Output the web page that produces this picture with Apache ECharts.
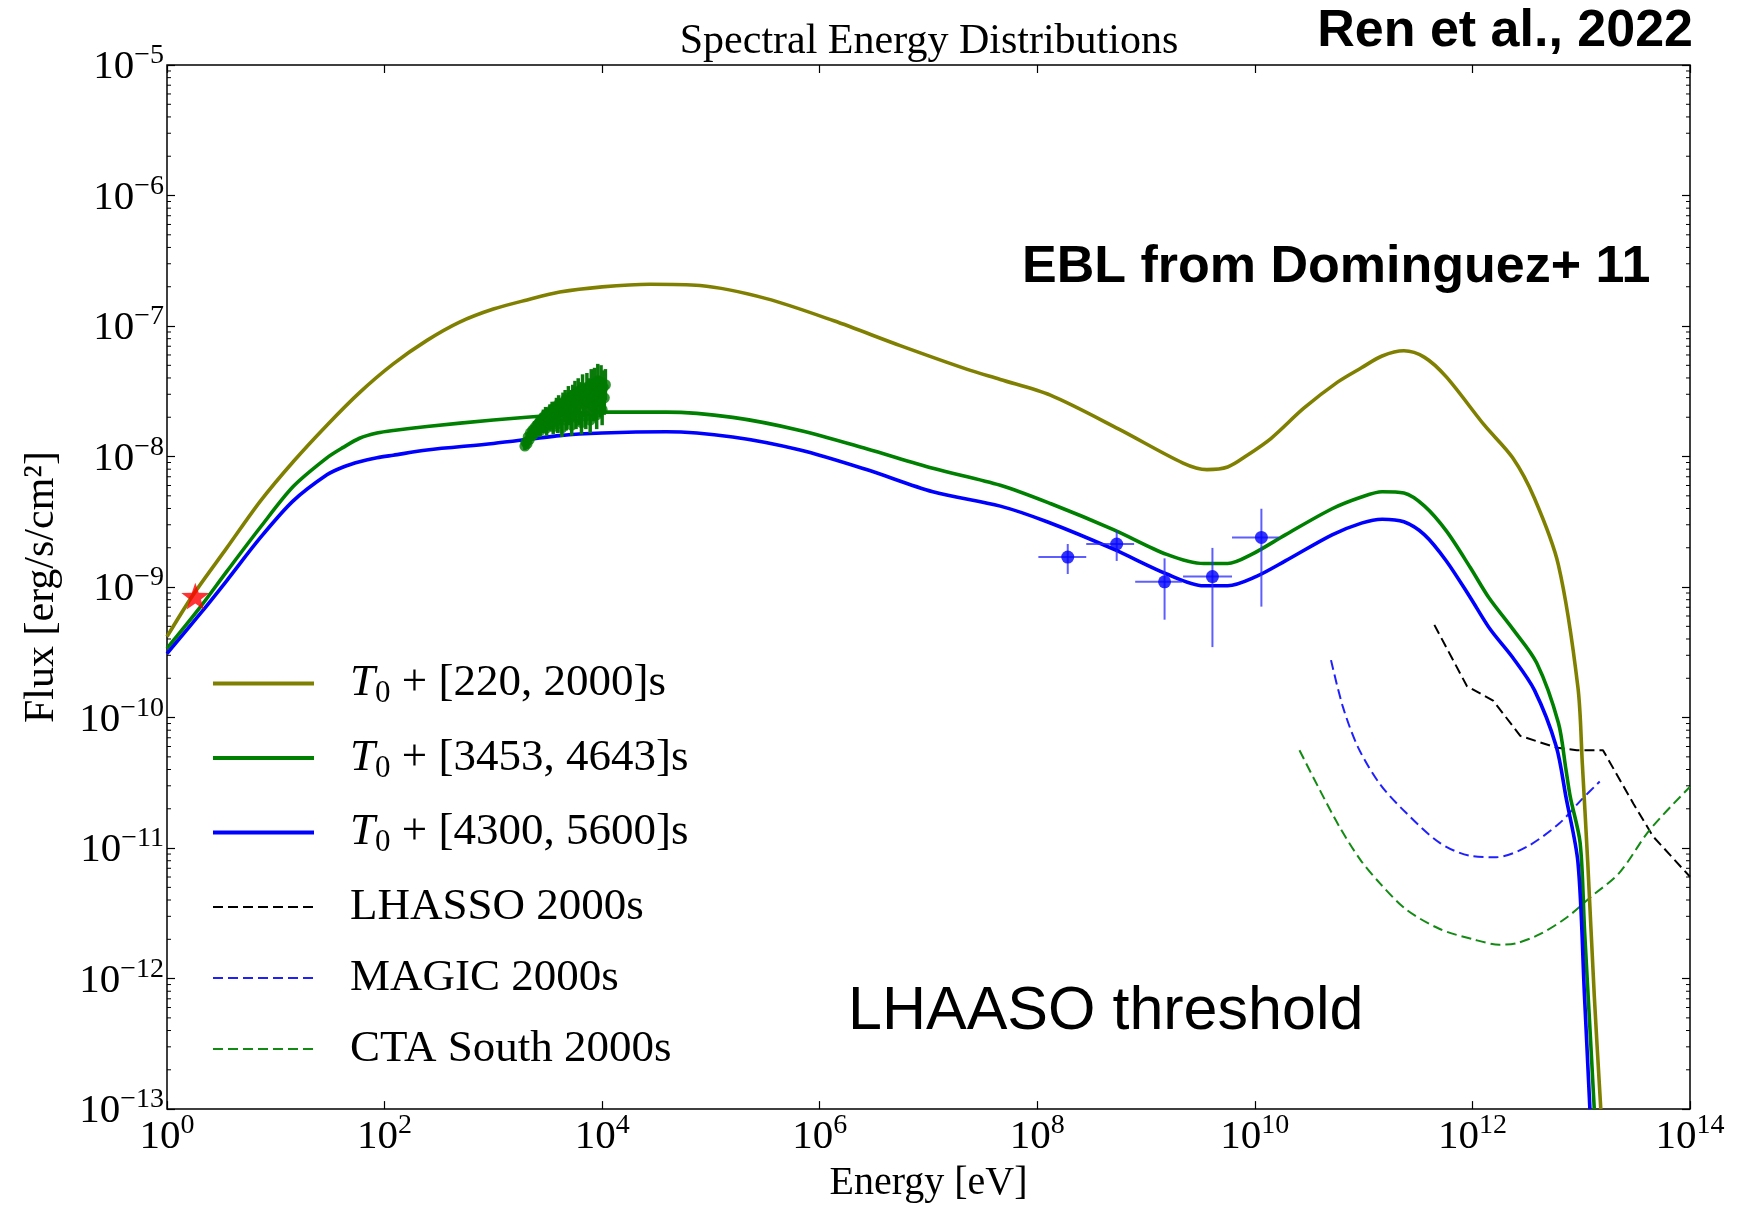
<!DOCTYPE html>
<html>
<head>
<meta charset="utf-8">
<title>Spectral Energy Distributions</title>
<script src="https://cdn.jsdelivr.net/npm/echarts@6/dist/echarts.min.js"></script>
<style>
  html, body { margin: 0; padding: 0; background: #ffffff; }
  #chart { width: 1745px; height: 1208px; }
</style>
</head>
<body>
<div id="chart"></div>
<script>
// ---- Model curves: log10 E [eV] and log10 flux [erg/s/cm^2] ----
const oliveLogE = [0.00, 0.24, 0.55, 0.86, 1.16, 1.47, 1.77, 2.08, 2.39, 2.69, 3.00, 3.31, 3.61, 4.00, 4.44, 4.90, 5.51, 6.13, 6.74, 7.35, 7.66, 8.12, 8.75, 9.34, 9.56, 9.75, 9.93, 10.15, 10.45, 10.76, 10.98, 11.17, 11.37, 11.56, 11.76, 12.11, 12.37, 12.57, 12.79, 12.97, 13.01, 13.06, 13.12, 13.18];
const oliveLogF = [-9.38, -9.06, -8.70, -8.34, -8.04, -7.76, -7.51, -7.29, -7.11, -6.97, -6.87, -6.80, -6.74, -6.70, -6.68, -6.69, -6.79, -6.96, -7.15, -7.33, -7.41, -7.53, -7.79, -8.05, -8.10, -8.08, -7.99, -7.86, -7.63, -7.43, -7.32, -7.23, -7.19, -7.24, -7.39, -7.76, -8.01, -8.32, -8.83, -9.77, -10.35, -11.11, -12.13, -13.00];

const greenLogE = [0.00, 0.30, 0.55, 0.86, 1.16, 1.47, 1.62, 1.77, 1.93, 2.08, 2.39, 3.00, 3.61, 4.00, 4.59, 5.20, 5.82, 6.43, 7.04, 7.66, 8.12, 8.70, 9.19, 9.53, 9.75, 9.97, 10.28, 10.71, 10.98, 11.17, 11.37, 11.56, 11.76, 11.98, 12.15, 12.37, 12.59, 12.79, 12.86, 12.90, 12.99, 13.03, 13.08, 13.12];
const greenLogF = [-9.47, -9.16, -8.88, -8.54, -8.23, -8.01, -7.93, -7.86, -7.82, -7.80, -7.77, -7.72, -7.68, -7.66, -7.66, -7.70, -7.80, -7.94, -8.09, -8.22, -8.36, -8.56, -8.75, -8.82, -8.82, -8.75, -8.60, -8.40, -8.31, -8.27, -8.28, -8.38, -8.57, -8.85, -9.08, -9.32, -9.58, -10.04, -10.40, -10.61, -10.96, -11.62, -12.38, -13.00];

const blueLogE = [0.00, 0.30, 0.55, 0.86, 1.16, 1.47, 1.62, 1.77, 1.93, 2.08, 2.39, 3.00, 3.61, 4.00, 4.59, 5.20, 5.82, 6.43, 7.04, 7.66, 8.09, 8.70, 9.19, 9.53, 9.75, 10.01, 10.28, 10.71, 10.98, 11.17, 11.37, 11.56, 11.76, 11.98, 12.16, 12.37, 12.57, 12.77, 12.86, 12.97, 13.03, 13.08];
const blueLogF = [-9.51, -9.21, -8.95, -8.62, -8.34, -8.14, -8.08, -8.04, -8.01, -7.99, -7.95, -7.90, -7.84, -7.82, -7.81, -7.85, -7.95, -8.10, -8.27, -8.38, -8.50, -8.71, -8.90, -8.99, -8.99, -8.92, -8.80, -8.60, -8.51, -8.48, -8.50, -8.60, -8.80, -9.08, -9.32, -9.54, -9.79, -10.22, -10.61, -11.11, -12.13, -13.00];

// ---- Instrument sensitivities (2000 s) ----
const lhaasoLogE = [11.65, 11.95, 12.19, 12.44, 12.77, 12.96, 13.20, 13.48, 13.66, 14.00];
const lhaasoLogF = [-9.29, -9.76, -9.87, -10.14, -10.23, -10.25, -10.25, -10.66, -10.91, -11.22];

const magicLogE = [10.70, 10.81, 10.95, 11.15, 11.39, 11.70, 11.98, 12.22, 12.50, 12.80, 12.99, 13.17];
const magicLogF = [-9.56, -9.92, -10.23, -10.51, -10.73, -10.96, -11.06, -11.07, -10.99, -10.81, -10.64, -10.49];

const ctaLogE = [10.41, 10.60, 10.78, 10.97, 11.15, 11.39, 11.70, 12.01, 12.25, 12.40, 12.62, 12.87, 13.08, 13.35, 13.63, 14.00];
const ctaLogF = [-10.25, -10.56, -10.84, -11.09, -11.27, -11.47, -11.62, -11.70, -11.74, -11.73, -11.66, -11.53, -11.38, -11.19, -10.86, -10.53];

// ---- Fermi-LAT points with energy bins and flux errors ----
const fermiLogE   = [8.28, 8.73, 9.17, 9.61, 10.06];
const fermiLogF   = [-8.77, -8.67, -8.96, -8.92, -8.62];
const fermiLogElo = [8.01, 8.45, 8.90, 9.34, 9.79];
const fermiLogEhi = [8.45, 8.89, 9.33, 9.79, 10.22];
const fermiLogFlo = [-8.90, -8.80, -9.25, -9.46, -9.15];
const fermiLogFhi = [-8.67, -8.57, -8.78, -8.70, -8.40];

// ---- X-ray spectrum points (flux and half error in dex) ----
const xrtLogE = [3.29, 3.30, 3.31, 3.32, 3.33, 3.34, 3.35, 3.36, 3.37, 3.38, 3.39, 3.40, 3.41, 3.42, 3.43, 3.44, 3.45, 3.46, 3.47, 3.48, 3.49, 3.50, 3.51, 3.52, 3.53, 3.54, 3.55, 3.56, 3.57, 3.58, 3.59, 3.60, 3.61, 3.62, 3.63, 3.64, 3.65, 3.66, 3.67, 3.68, 3.69, 3.70, 3.71, 3.72, 3.73, 3.74, 3.75, 3.76, 3.77, 3.78, 3.79, 3.80, 3.81, 3.82, 3.83, 3.84, 3.85, 3.86, 3.87, 3.88, 3.89, 3.90, 3.91, 3.92, 3.93, 3.94, 3.95, 3.96, 3.97, 3.98, 3.99, 4.00, 4.01, 4.02, 4.03];
const xrtLogF = [-7.92, -7.89, -7.90, -7.85, -7.87, -7.82, -7.84, -7.80, -7.83, -7.78, -7.81, -7.76, -7.79, -7.74, -7.80, -7.72, -7.77, -7.70, -7.75, -7.68, -7.78, -7.69, -7.74, -7.66, -7.72, -7.64, -7.77, -7.65, -7.70, -7.62, -7.75, -7.60, -7.68, -7.63, -7.78, -7.59, -7.66, -7.57, -7.72, -7.61, -7.55, -7.68, -7.58, -7.76, -7.54, -7.64, -7.52, -7.70, -7.57, -7.50, -7.66, -7.53, -7.74, -7.48, -7.60, -7.55, -7.69, -7.47, -7.58, -7.52, -7.72, -7.45, -7.56, -7.62, -7.44, -7.53, -7.68, -7.42, -7.50, -7.58, -7.43, -7.64, -7.47, -7.55, -7.45];
const xrtLogErr = [0.03, 0.03, 0.04, 0.03, 0.04, 0.04, 0.03, 0.04, 0.04, 0.05, 0.04, 0.05, 0.04, 0.05, 0.05, 0.05, 0.05, 0.06, 0.05, 0.06, 0.06, 0.06, 0.06, 0.06, 0.07, 0.06, 0.06, 0.07, 0.07, 0.07, 0.07, 0.07, 0.08, 0.07, 0.07, 0.08, 0.08, 0.08, 0.08, 0.08, 0.09, 0.08, 0.09, 0.08, 0.09, 0.09, 0.10, 0.09, 0.10, 0.10, 0.10, 0.10, 0.09, 0.11, 0.10, 0.11, 0.10, 0.11, 0.11, 0.12, 0.10, 0.12, 0.12, 0.11, 0.12, 0.12, 0.11, 0.13, 0.12, 0.12, 0.13, 0.12, 0.13, 0.13, 0.12];

// ---- Optical point ----
const optLogE = [0.26];
const optLogF = [-9.07];

// ---- Axis ranges and legend names ----
const xRange = [1, 1e14];
const yRange = [1e-13, 1e-5];
const minorMantissas = [2, 3, 4, 5, 6, 7, 8, 9];
const seriesNames = ['T0 + [220, 2000]s', 'T0 + [3453, 4643]s', 'T0 + [4300, 5600]s', 'LHASSO 2000s', 'MAGIC 2000s', 'CTA South 2000s'];

const SERIF = '"Liberation Serif", "Times New Roman", serif';
const SANS = '"Liberation Sans", Arial, Helvetica, sans-serif';

const pairs = (le, lf) => le.map((e, i) => [Math.pow(10, e), Math.pow(10, lf[i])]);

const fermiData = fermiLogE.map((e, i) => [
  Math.pow(10, e), Math.pow(10, fermiLogF[i]),
  Math.pow(10, fermiLogElo[i]), Math.pow(10, fermiLogEhi[i]),
  Math.pow(10, fermiLogFlo[i]), Math.pow(10, fermiLogFhi[i])
]);
const xrtData = xrtLogE.map((e, i) => [
  Math.pow(10, e), Math.pow(10, xrtLogF[i]),
  Math.pow(10, e), Math.pow(10, e),
  Math.pow(10, xrtLogF[i] - xrtLogErr[i]), Math.pow(10, xrtLogF[i] + xrtLogErr[i])
]);

// minor tick positions on the flux axis (2..9 x each decade)
const minorTicks = [];
for (let d = Math.round(Math.log10(yRange[0])); d < Math.round(Math.log10(yRange[1])); d++) {
  minorMantissas.forEach(m => minorTicks.push([xRange[0], m * Math.pow(10, d)]));
}

function powerLabel(v) {
  const n = Math.round(Math.log10(v));
  return '{b|10}{e|' + (n < 0 ? '\u2212' + (-n) : String(n)) + '}';
}
const tickRich = {
  b: { fontFamily: SERIF, fontSize: 41, lineHeight: 46, color: '#000', verticalAlign: 'bottom' },
  e: { fontFamily: SERIF, fontSize: 28, lineHeight: 32, color: '#000', verticalAlign: 'top' }
};

function errorBars(color, width) {
  return function (params, api) {
    const c = api.coord([api.value(0), api.value(1)]);
    const xl = api.coord([api.value(2), api.value(1)]);
    const xh = api.coord([api.value(3), api.value(1)]);
    const yl = api.coord([api.value(0), api.value(4)]);
    const yh = api.coord([api.value(0), api.value(5)]);
    const style = { stroke: color, lineWidth: width };
    const children = [{ type: 'line', shape: { x1: c[0], y1: yl[1], x2: c[0], y2: yh[1] }, style: style }];
    if (Math.abs(xh[0] - xl[0]) > 0.5) {
      children.push({ type: 'line', shape: { x1: xl[0], y1: c[1], x2: xh[0], y2: c[1] }, style: style });
    }
    return { type: 'group', children: children };
  };
}

const STAR = 'path://M0,-10L2.35,-3.24L9.51,-3.09L3.8,1.24L5.88,8.09L0,4L-5.88,8.09L-3.8,1.24L-9.51,-3.09L-2.35,-3.24Z';

const chart = echarts.init(document.getElementById('chart'), null, { renderer: 'canvas' });

const logAxisCommon = {
  type: 'log',
  logBase: 10,
  splitLine: { show: false },
  axisLine: { show: false },
  axisTick: { show: true, inside: true, length: 8, lineStyle: { color: '#000', width: 1.2 } },
  minorTick: { show: false }
};

const lineColors = ['#808000', '#008000', '#0000ff', '#000000', '#2020ff', '#138a13'];
const legendWidths = [4, 4, 4, 2, 2, 2];

const option = {
  backgroundColor: '#ffffff',
  animation: false,
  grid: {
    left: 167, right: 55, top: 65, bottom: 94,
    show: true, borderColor: '#000', borderWidth: 1.5, backgroundColor: 'transparent'
  },
  xAxis: [
    Object.assign({}, logAxisCommon, {
      position: 'bottom', min: xRange[0], max: xRange[1], interval: 2,
      axisLabel: { formatter: powerLabel, rich: tickRich, margin: 3 },
      name: 'Energy [eV]', nameLocation: 'middle', nameGap: 48,
      nameTextStyle: { fontFamily: SERIF, fontSize: 40, color: '#000' }
    }),
    Object.assign({}, logAxisCommon, {
      position: 'top', min: xRange[0], max: xRange[1], interval: 2,
      axisLabel: { show: false }
    })
  ],
  yAxis: [
    Object.assign({}, logAxisCommon, {
      position: 'left', min: yRange[0], max: yRange[1], interval: 1,
      axisLabel: { formatter: powerLabel, rich: tickRich, margin: 3 },
      name: 'Flux [erg/s/cm\u00B2]', nameLocation: 'middle', nameGap: 104,
      nameTextStyle: { fontFamily: SERIF, fontSize: 42, color: '#000' }
    }),
    Object.assign({}, logAxisCommon, {
      position: 'right', min: yRange[0], max: yRange[1], interval: 1,
      axisLabel: { show: false }
    })
  ],
  legend: {
    data: seriesNames.map((n, i) => ({
      name: n,
      lineStyle: { width: legendWidths[i], color: lineColors[i] }
    })),
    orient: 'vertical',
    left: 211, top: 661,
    padding: 0,
    itemWidth: 101, itemHeight: 14, itemGap: 26,
    selectedMode: false,
    itemStyle: { opacity: 0 },
    formatter: function (name) {
      const m = name.match(/^T0 \+ (.*)$/);
      if (m) return '{g|}{t|T}{s|0}{r| + ' + m[1] + '}';
      return '{g|}{r|' + name + '}';
    },
    textStyle: {
      color: '#000',
      rich: {
        g: { width: 31 },
        t: { fontFamily: SERIF, fontStyle: 'italic', fontSize: 45, lineHeight: 52, color: '#000' },
        s: { fontFamily: SERIF, fontSize: 31, lineHeight: 30, verticalAlign: 'bottom', color: '#000' },
        r: { fontFamily: SERIF, fontSize: 45, lineHeight: 52, color: '#000' }
      }
    }
  },
  graphic: [
    { type: 'text', x: 929, y: 42, silent: true,
      style: { text: 'Spectral Energy Distributions', font: '42px ' + SERIF, fill: '#000',
               align: 'center', verticalAlign: 'middle', textAlign: 'center', textVerticalAlign: 'middle' } },
    { type: 'text', x: 1693, y: 32, silent: true,
      style: { text: 'Ren et al., 2022', font: 'bold 52px ' + SANS, fill: '#000',
               align: 'right', verticalAlign: 'middle', textAlign: 'right', textVerticalAlign: 'middle' } },
    { type: 'text', x: 1022, y: 268, silent: true,
      style: { text: 'EBL from Dominguez+ 11', font: 'bold 52px ' + SANS, fill: '#000',
               align: 'left', verticalAlign: 'middle', textAlign: 'left', textVerticalAlign: 'middle' } },
    { type: 'text', x: 848, y: 1012, silent: true,
      style: { text: 'LHAASO threshold', font: '61px ' + SANS, fill: '#000',
               align: 'left', verticalAlign: 'middle', textAlign: 'left', textVerticalAlign: 'middle' } }
  ],
  series: [
    { name: seriesNames[0], type: 'line', data: pairs(oliveLogE, oliveLogF), symbol: 'none', showSymbol: false,
      smooth: 0.3, clip: true, z: 3,
      lineStyle: { color: lineColors[0], width: 3.6 }, itemStyle: { color: lineColors[0] } },
    { name: seriesNames[1], type: 'line', data: pairs(greenLogE, greenLogF), symbol: 'none', showSymbol: false,
      smooth: 0.3, clip: true, z: 3,
      lineStyle: { color: lineColors[1], width: 3.6 }, itemStyle: { color: lineColors[1] } },
    { name: seriesNames[2], type: 'line', data: pairs(blueLogE, blueLogF), symbol: 'none', showSymbol: false,
      smooth: 0.3, clip: true, z: 3,
      lineStyle: { color: lineColors[2], width: 3.6 }, itemStyle: { color: lineColors[2] } },
    { name: seriesNames[3], type: 'line', data: pairs(lhaasoLogE, lhaasoLogF), symbol: 'none', showSymbol: false,
      clip: true, z: 2,
      lineStyle: { color: lineColors[3], width: 2, type: [10, 5] }, itemStyle: { color: lineColors[3] } },
    { name: seriesNames[4], type: 'line', data: pairs(magicLogE, magicLogF), symbol: 'none', showSymbol: false,
      smooth: 0.3, clip: true, z: 2,
      lineStyle: { color: lineColors[4], width: 2, type: [10, 5] }, itemStyle: { color: lineColors[4] } },
    { name: seriesNames[5], type: 'line', data: pairs(ctaLogE, ctaLogF), symbol: 'none', showSymbol: false,
      smooth: 0.3, clip: true, z: 2,
      lineStyle: { color: lineColors[5], width: 2, type: [10, 5] }, itemStyle: { color: lineColors[5] } },
    { type: 'custom', renderItem: errorBars('rgba(40,40,255,0.75)', 2), data: fermiData,
      encode: { x: 0, y: 1 }, z: 5, silent: true },
    { type: 'scatter', data: fermiData.map(d => [d[0], d[1]]), symbol: 'circle', symbolSize: 13,
      itemStyle: { color: '#0000ff' }, z: 6, silent: true },
    { type: 'custom', renderItem: errorBars('#0a7a0a', 3.5), data: xrtData,
      encode: { x: 0, y: 1 }, z: 5, silent: true },
    { type: 'scatter', data: xrtData.map(d => [d[0], d[1]]), symbol: 'circle', symbolSize: 11,
      itemStyle: { color: '#007a00' }, z: 6, silent: true },
    { type: 'scatter', data: pairs(optLogE, optLogF), symbol: STAR, symbolSize: 28, symbolKeepAspect: true,
      itemStyle: { color: '#ff0000' }, z: 7, silent: true },
    { type: 'custom', data: minorTicks, encode: { x: 0, y: 1 }, z: 8, silent: true, clip: false,
      renderItem: function (params, api) {
        const p = api.coord([api.value(0), api.value(1)]);
        const cs = params.coordSys;
        const st = { stroke: '#000', lineWidth: 1 };
        return { type: 'group', children: [
          { type: 'line', shape: { x1: cs.x, y1: p[1], x2: cs.x + 4, y2: p[1] }, style: st },
          { type: 'line', shape: { x1: cs.x + cs.width - 4, y1: p[1], x2: cs.x + cs.width, y2: p[1] }, style: st }
        ] };
      } }
  ]
};

chart.setOption(option);
</script>
</body>
</html>
